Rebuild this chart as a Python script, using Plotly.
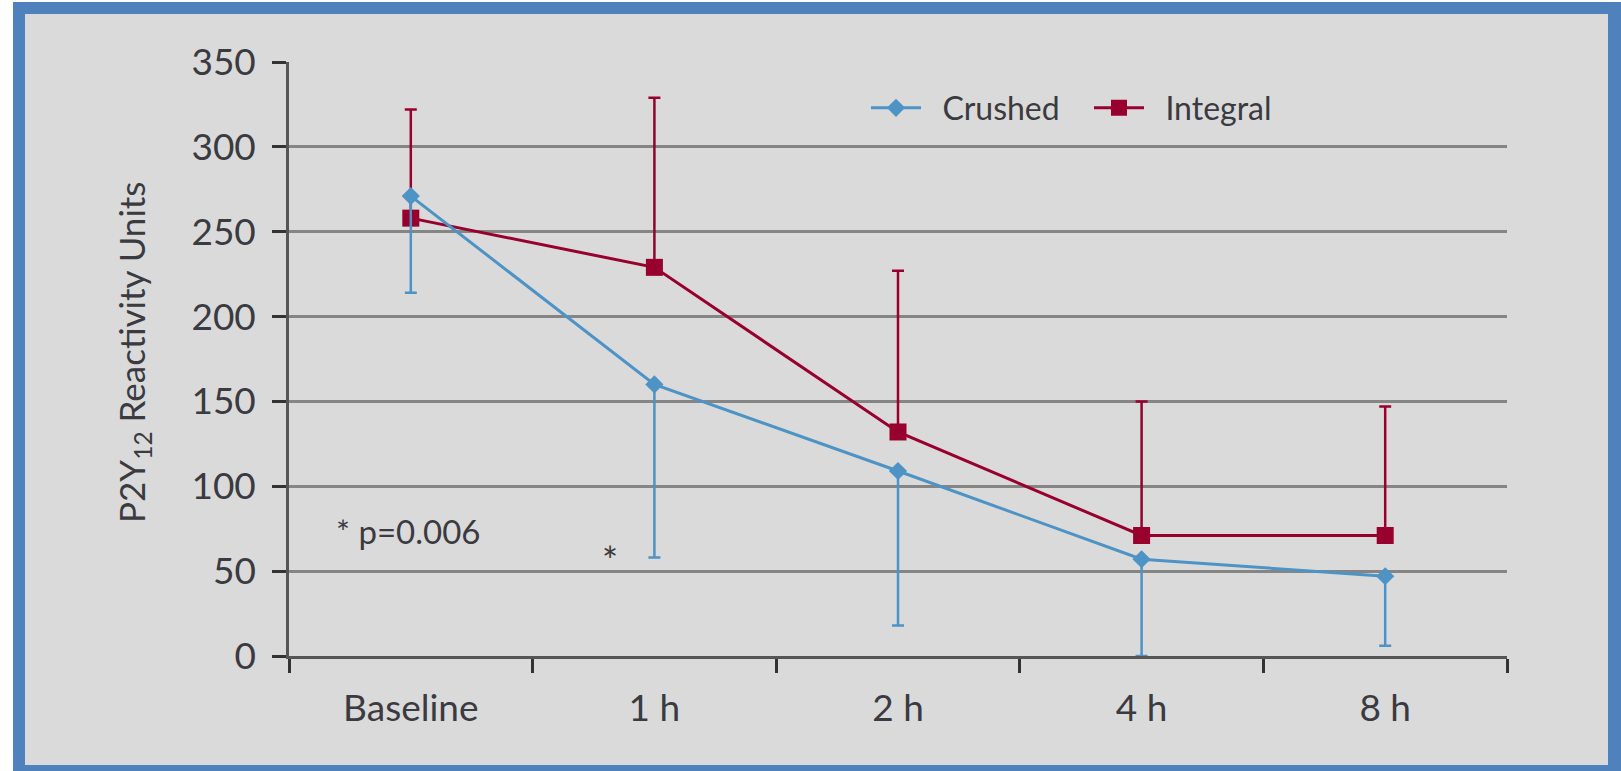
import plotly.graph_objects as go

# Time points
timepoints = ["Baseline", "1 h", "2 h", "4 h", "8 h"]

# Crushed ticagrelor: mean PRU and lower error (SD)
crushed_mean = [271, 160, 109, 57, 47]
crushed_err_minus = [57, 102, 91, 57, 41]

# Integral ticagrelor: mean PRU and upper error (SD)
integral_mean = [258, 229, 132, 71, 71]
integral_err_plus = [64, 100, 95, 79, 76]

y_ticks = [0, 50, 100, 150, 200, 250, 300, 350]

BLUE = "#4D93C5"
RED = "#98002E"
TEXT = "#3A3A40"
FONT = "Lato"
GAP = "\u00a0\u00a0"  # spacing between legend symbol and label

W, H = 1621, 771
ML, MR, MT, MB = 289, 114, 62, 115


def px(x):
    return (x - ML) / (W - ML - MR)


def py(y):
    return (H - MB - y) / (H - MT - MB)


fig = go.Figure()

fig.add_trace(go.Scatter(
    x=timepoints, y=integral_mean, name=GAP + "Integral",
    mode="lines+markers",
    line=dict(color=RED, width=3),
    marker=dict(symbol="square", size=17, color=RED),
    error_y=dict(type="data", symmetric=False, array=integral_err_plus,
                 arrayminus=[0] * len(integral_mean),
                 color=RED, thickness=2.5, width=6),
))

fig.add_trace(go.Scatter(
    x=timepoints, y=crushed_mean, name=GAP + "Crushed",
    mode="lines+markers",
    line=dict(color=BLUE, width=3),
    marker=dict(symbol="diamond", size=14, color=BLUE),
    error_y=dict(type="data", symmetric=False, array=[0] * len(crushed_mean),
                 arrayminus=crushed_err_minus,
                 color=BLUE, thickness=2.5, width=6),
))

# Blue frame with light grey panel
fig.add_shape(type="rect", xref="paper", yref="paper", layer="below",
              x0=px(13), x1=px(W + 10), y0=py(2), y1=py(H + 10),
              fillcolor="#4F81BD", line=dict(width=0))
fig.add_shape(type="rect", xref="paper", yref="paper", layer="below",
              x0=px(25), x1=px(1608), y0=py(14), y1=py(765),
              fillcolor="#DADADA", line=dict(width=0))

fig.add_annotation(xref="paper", yref="paper", x=px(133), y=py(352),
                   text="P2Y<sub>12</sub> Reactivity Units", textangle=-90,
                   showarrow=False, xanchor="center", yanchor="middle",
                   font=dict(family=FONT, size=35, color=TEXT))

fig.add_annotation(xref="paper", yref="paper", x=px(334), y=py(531),
                   text="* p=0.006", showarrow=False,
                   xanchor="left", yanchor="middle",
                   font=dict(family=FONT, size=33, color=TEXT))
fig.add_annotation(xref="paper", yref="paper", x=px(610), y=py(560),
                   text="*", showarrow=False,
                   xanchor="center", yanchor="middle",
                   font=dict(family=FONT, size=38, color=TEXT))

fig.update_layout(
    width=W, height=H,
    margin=dict(l=ML, r=MR, t=MT, b=MB, pad=0),
    paper_bgcolor="white",
    plot_bgcolor="rgba(0,0,0,0)",
    font=dict(family=FONT, color=TEXT),
    showlegend=True,
    legend=dict(orientation="h", x=px(866), y=py(108),
                xanchor="left", yanchor="middle",
                bgcolor="rgba(0,0,0,0)", traceorder="reversed",
                font=dict(family=FONT, size=32, color=TEXT),
                itemwidth=50, entrywidth=158, entrywidthmode="pixels"),
    xaxis=dict(type="category", tickson="boundaries", range=[-0.5, 4.5],
               ticks="outside", ticklen=14, tickwidth=3, tickcolor="#333333",
               showline=True, linecolor="#555555", linewidth=2.5,
               showgrid=False, zeroline=False, ticklabelstandoff=18,
               tickfont=dict(family=FONT, size=37, color=TEXT)),
    yaxis=dict(range=[0, 350], tickvals=y_ticks,
               ticks="outside", ticklen=14, tickwidth=3, tickcolor="#333333",
               showline=True, linecolor="#555555", linewidth=2.5,
               showgrid=True, gridcolor="#858585", gridwidth=2.5,
               zeroline=False, ticklabelstandoff=9,
               tickfont=dict(family=FONT, size=37, color=TEXT)),
)

fig.write_html("out.html")
